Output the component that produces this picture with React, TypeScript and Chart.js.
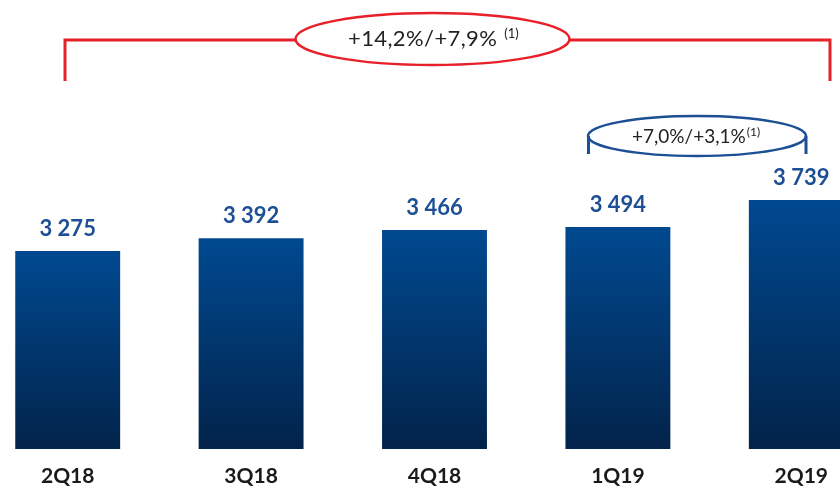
import React, { useEffect, useRef } from "react";
import { Chart, registerables } from "chart.js";

Chart.register(...registerables);

const categories = ["2Q18", "3Q18", "4Q18", "1Q19", "2Q19"];
const values = [3275, 3392, 3466, 3494, 3739];
const valueLabels = ["3 275", "3 392", "3 466", "3 494", "3 739"];
const totalGrowth = "+14,2%/+7,9%";
const qoqGrowth = "+7,0%/+3,1%";
const noteMark = "(1)";

const SHIFT = 24; // canvas is shifted left by this many px
const W = 917;
const H = 490;

export default function App() {
  const ref = useRef<HTMLCanvasElement>(null);

  useEffect(() => {
    document.body.style.margin = "0";
    const canvas = ref.current!;
    const px = (x: number) => x + SHIFT;

    const annotate = {
      id: "annotate",
      afterDatasetsDraw(chart: any) {
        const ctx = chart.ctx as CanvasRenderingContext2D;
        const meta = chart.getDatasetMeta(0);
        ctx.save();
        // value labels
        ctx.font = "bold 22px Lato";
        ctx.fillStyle = "#1c4f94";
        ctx.textAlign = "center";
        ctx.textBaseline = "alphabetic";
        meta.data.forEach((el: any, i: number) => {
          ctx.fillText(valueLabels[i], el.x, el.y - 15);
        });

        // red bracket
        const red = "#e8202a";
        ctx.strokeStyle = red;
        ctx.lineWidth = 3;
        ctx.lineCap = "butt";
        ctx.beginPath();
        ctx.moveTo(px(65), 81);
        ctx.lineTo(px(65), 40);
        ctx.lineTo(px(295), 40);
        ctx.moveTo(px(570), 40);
        ctx.lineTo(px(830), 40);
        ctx.lineTo(px(830), 81);
        ctx.stroke();
        ctx.lineWidth = 2.5;
        ctx.beginPath();
        ctx.ellipse(px(432.5), 39, 137, 26, 0, 0, Math.PI * 2);
        ctx.stroke();
        ctx.fillStyle = "#222222";
        ctx.textAlign = "left";
        ctx.font = "22px Lato";
        (ctx as any).letterSpacing = "0.4px";
        ctx.fillText(totalGrowth, px(348), 46);
        let w = ctx.measureText(totalGrowth).width;
        (ctx as any).letterSpacing = "0px";
        ctx.font = "13px Lato";
        ctx.fillText(noteMark, px(348) + w + 7, 38);

        // blue bracket
        const blue = "#1c4f94";
        ctx.strokeStyle = blue;
        ctx.lineWidth = 2.5;
        ctx.beginPath();
        ctx.ellipse(px(697), 136, 109, 20, 0, 0, Math.PI * 2);
        ctx.stroke();
        ctx.lineWidth = 3;
        ctx.beginPath();
        ctx.moveTo(px(588.5), 136);
        ctx.lineTo(px(588.5), 154);
        ctx.moveTo(px(806), 136);
        ctx.lineTo(px(806), 154);
        ctx.stroke();
        ctx.fillStyle = "#222222";
        ctx.font = "19px Lato";
        ctx.fillText(qoqGrowth, px(632), 143);
        w = ctx.measureText(qoqGrowth).width;
        ctx.font = "12px Lato";
        ctx.fillText(noteMark, px(632) + w + 1, 136);
        ctx.restore();
      },
    };

    const chart = new Chart(canvas, {
      type: "bar",
      data: {
        labels: categories,
        datasets: [
          {
            data: values,
            backgroundColor: (c: any) => {
              const ch = c.chart;
              const area = ch.chartArea;
              if (!area || !ch.scales.y) return "#0a3f7e";
              const top = ch.scales.y.getPixelForValue(values[c.dataIndex]);
              const g = ch.ctx.createLinearGradient(0, top, 0, area.bottom);
              g.addColorStop(0, "#004990");
              g.addColorStop(1, "#02234a");
              return g;
            },
            borderWidth: 0,
            barPercentage: 1,
            categoryPercentage: 0.572,
          },
        ],
      },
      plugins: [annotate],
      options: {
        responsive: false,
        animation: false,
        events: [],
        layout: { padding: 0 },
        plugins: {
          legend: { display: false },
          tooltip: { enabled: false },
          title: { display: false },
        },
        scales: {
          x: {
            grid: { display: false, drawTicks: false },
            border: { display: false },
            ticks: {
              color: "#1a1a1a",
              font: { family: "Lato", size: 21, weight: "bold" },
              padding: 15,
              maxRotation: 0,
            },
            afterFit: (scale: any) => {
              scale.height = 41;
            },
          },
          y: {
            display: false,
            min: 1474,
            max: 5560,
          },
        },
      },
    } as any);

    return () => chart.destroy();
  }, []);

  return (
    <div
      style={{
        position: "fixed",
        left: 0,
        top: 0,
        width: 840,
        height: 490,
        overflow: "hidden",
        background: "#ffffff",
      }}
    >
      <canvas
        ref={ref}
        width={W}
        height={H}
        style={{ position: "absolute", left: -SHIFT, top: 0, width: W, height: H }}
      />
    </div>
  );
}
